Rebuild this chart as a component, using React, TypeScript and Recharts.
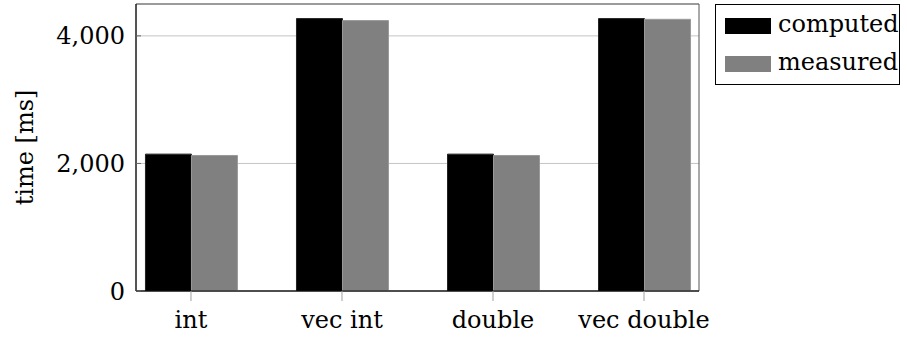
import {
  BarChart, Bar, XAxis, YAxis, CartesianGrid, Legend, ReferenceArea,
} from "recharts";

const categories = ["int", "vec int", "double", "vec double"];
const computed = [2146, 4271, 2146, 4271];
const measured = [2125, 4240, 2125, 4260];
const yTicks = [0, 2000, 4000];

const FONT = "DejaVu Serif";
const FS = 24;
const X_DOMAIN: [number, number] = [-0.364, 3.364];
const Y_DOMAIN: [number, number] = [0, 4500];

const SERIES = [
  { key: "computed", name: "computed", fill: "#000000", stroke: "#222222" },
  { key: "measured", name: "measured", fill: "#808080", stroke: "#9a9a9a" },
];

const data = categories.map((c, i) => ({
  idx: i,
  name: c,
  computed: computed[i],
  measured: measured[i],
}));

function LegendBox() {
  return (
    <div
      style={{
        width: 183,
        height: 79,
        border: "1px solid #000",
        background: "#fff",
        fontFamily: FONT,
        fontSize: FS,
        color: "#000",
        boxSizing: "content-box",
      }}
    >
      {SERIES.map((s) => (
        <div key={s.key} style={{ display: "flex", height: 38, lineHeight: "38px", whiteSpace: "nowrap" }}>
          <div
            style={{
              width: 46,
              height: 16,
              marginTop: 13,
              marginLeft: 9,
              marginRight: 7,
              background: s.fill,
              flex: "none",
            }}
          />
          <span>{s.name}</span>
        </div>
      ))}
    </div>
  );
}

export default function App() {
  return (
    <div style={{ position: "absolute", left: 0, top: 0, width: 907, height: 340, background: "#fff" }}>
      <BarChart
        width={907}
        height={340}
        data={data}
        barGap={0}
        margin={{ top: 4, right: 208, left: 0, bottom: 0 }}
      >
        <CartesianGrid vertical={false} stroke="#c4c4c4" />
        <XAxis
          type="number"
          dataKey="idx"
          domain={X_DOMAIN}
          ticks={[0, 1, 2, 3]}
          tickFormatter={(v: number) => categories[v] ?? ""}
          allowDataOverflow
          height={49}
          tickSize={10}
          tickMargin={10}
          axisLine={{ stroke: "#000" }}
          tickLine={{ stroke: "#a0a0a0" }}
          tick={{ fontFamily: FONT, fontSize: FS, fill: "#000" }}
        />
        <YAxis
          domain={Y_DOMAIN}
          ticks={yTicks}
          allowDataOverflow
          width={136}
          tickSize={-5}
          tickMargin={16}
          axisLine={{ stroke: "#000" }}
          tickLine={{ stroke: "#666" }}
          tickFormatter={(v: number) => v.toLocaleString("en-US")}
          tick={{ fontFamily: FONT, fontSize: FS, fill: "#000" }}
          label={{
            value: "time [ms]",
            angle: -90,
            position: "center",
            dx: -44,
            style: { fontFamily: FONT, fontSize: FS, fill: "#000" },
          }}
        />
        <YAxis
          yAxisId="mirror"
          orientation="right"
          domain={Y_DOMAIN}
          ticks={yTicks}
          allowDataOverflow
          width={0}
          tickSize={-5}
          axisLine={false}
          tickLine={{ stroke: "#666" }}
          tick={false}
        />
        {SERIES.map((s) => (
          <Bar
            key={s.key}
            dataKey={s.key}
            name={s.name}
            fill={s.fill}
            stroke={s.stroke}
            strokeWidth={1}
            barSize={46}
            isAnimationActive={false}
          />
        ))}
        <ReferenceArea
          x1={X_DOMAIN[0]}
          x2={X_DOMAIN[1]}
          y1={Y_DOMAIN[0]}
          y2={Y_DOMAIN[1]}
          fill="none"
          stroke="#555"
          strokeWidth={1}
        />
        <Legend
          layout="vertical"
          align="center"
          verticalAlign="middle"
          content={() => <LegendBox />}
          wrapperStyle={{ left: 715, top: 4, width: 185 }}
        />
      </BarChart>
    </div>
  );
}
